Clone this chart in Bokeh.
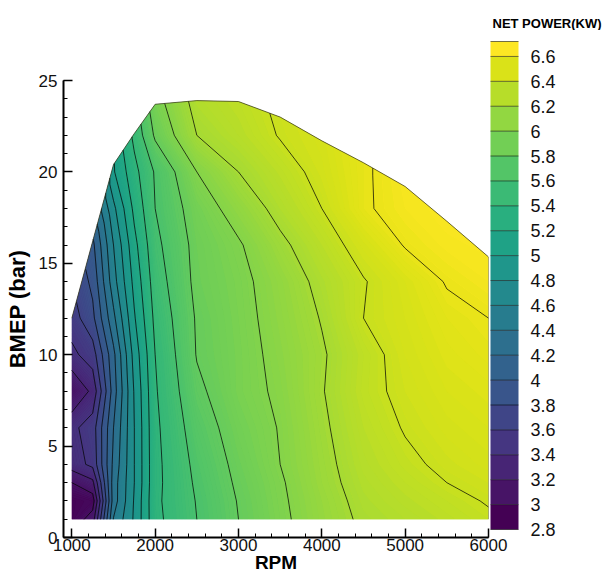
import numpy as np
from bokeh.plotting import figure
from bokeh.layouts import column
from bokeh.models import (Range1d, SingleIntervalTicker, FixedTicker,
                          PrintfTickFormatter)
from bokeh.palettes import Viridis256, linear_palette
from bokeh.embed import file_html
from bokeh.resources import INLINE

# ---- data ----
rpm = [1000, 1250, 1500, 1750, 2000, 2500, 3000, 3500, 4000, 4500, 5000, 5500, 6000]
bmep_rows = [1, 2, 3, 4, 6, 8, 10, 12, 14, 16, 18, 20, 22, 24]
# full-load limit of the map (BMEP, bar) at each RPM
bmep_max = [12.0, 16.2, 20.4, 22.1, 23.7, 23.9, 23.85, 23.0, 21.7, 20.5, 19.2, 17.3, 15.35]

# net power (kW): one row per BMEP level, one column per RPM; None = beyond full load
power = [
    # 1000  1250  1500  1750  2000  2500  3000  3500  4000  4500  5000  5500  6000
    [2.85, 3.10, 4.41, 4.83, 5.35, 5.60, 5.80, 5.96, 6.11, 6.23, 6.28, 6.33, 6.38],  # 1
    [2.85, 2.90, 4.30, 4.82, 5.36, 5.61, 5.81, 5.97, 6.12, 6.25, 6.31, 6.36, 6.41],  # 2
    [3.00, 3.15, 4.30, 4.80, 5.35, 5.63, 5.83, 5.98, 6.14, 6.27, 6.34, 6.40, 6.44],  # 3
    [3.30, 3.45, 4.25, 4.80, 5.35, 5.65, 5.85, 6.00, 6.15, 6.29, 6.37, 6.43, 6.47],  # 4
    [3.35, 3.50, 4.20, 4.80, 5.36, 5.70, 5.89, 6.01, 6.17, 6.32, 6.41, 6.47, 6.50],  # 6
    [3.00, 3.25, 4.10, 4.82, 5.38, 5.76, 5.93, 6.03, 6.19, 6.35, 6.44, 6.50, 6.53],  # 8
    [3.35, 3.50, 4.15, 4.88, 5.40, 5.81, 5.93, 6.05, 6.18, 6.34, 6.46, 6.53, 6.57],  # 10
    [3.50, 3.75, 4.35, 4.98, 5.45, 5.82, 5.94, 6.07, 6.21, 6.40, 6.48, 6.56, 6.60],  # 12
    [None, 3.85, 4.52, 5.06, 5.50, 5.85, 5.95, 6.09, 6.25, 6.39, 6.50, 6.61, 6.66],  # 14
    [None, 3.95, 4.60, 5.14, 5.55, 5.86, 5.98, 6.16, 6.32, 6.47, 6.61, 6.67, 6.68],  # 16
    [None, 3.97, 4.75, 5.25, 5.60, 5.90, 6.08, 6.26, 6.40, 6.58, 6.66, 6.69, None],  # 18
    [None, None, 4.98, 5.34, 5.62, 6.00, 6.20, 6.33, 6.45, 6.58, 6.67, None, None],  # 20
    [None, None, None, 5.45, 5.83, 6.20, 6.30, 6.41, 6.47, None, None, None, None],  # 22
    [None, None, None, None, 5.92, 6.27, 6.34, 6.42, None, None, None, None, None],  # 24
]

cbar_ticks = [2.8, 3, 3.2, 3.4, 3.6, 3.8, 4, 4.2, 4.4, 4.6, 4.8, 5, 5.2, 5.4,
              5.6, 5.8, 6, 6.2, 6.4, 6.6]
cbar_top = 6.72
cbar_title = "NET POWER(KW)"

# ---- curvilinear grid clipped at the full-load line ----
ny, nx = len(bmep_rows), len(rpm)
X = np.zeros((ny, nx))
Y = np.zeros((ny, nx))
Z = np.zeros((ny, nx))
for j in range(nx):
    last = None
    for i in range(ny):
        X[i, j] = rpm[j]
        Y[i, j] = min(bmep_rows[i], bmep_max[j])
        v = power[i][j]
        if v is None:
            v = last
        Z[i, j] = v
        last = v

FONT = "Liberation Sans"

# ---- strip holding the colour-bar title (its frame is aligned with the map's frame) ----
TITLE_H = 30
tf = figure(width=604, height=TITLE_H, x_range=Range1d(0, 1), y_range=Range1d(0, 1),
            output_backend="svg", toolbar_location=None,
            x_axis_location=None, y_axis_location=None,
            title=cbar_title, title_location="below",
            min_border_left=0, min_border_right=0, min_border_top=0, min_border_bottom=0)
tf.outline_line_color = None
tf.grid.visible = False
tf.background_fill_color = "white"
tf.border_fill_color = "white"
tf.title.align = "left"
tf.title.offset = 429
tf.title.standoff = 0
tf.title.vertical_align = "bottom"
tf.title.text_font = FONT
tf.title.text_font_style = "bold"
tf.title.text_font_size = "13px"
tf.title.text_color = "black"

# ---- main map ----
p = figure(width=604, height=575 - TITLE_H,
           x_range=Range1d(900, 6000), y_range=Range1d(0, 25),
           output_backend="svg", toolbar_location=None,
           min_border_left=63, min_border_right=116,
           min_border_top=80 - TITLE_H, min_border_bottom=37)
p.outline_line_color = None
p.grid.visible = False
p.background_fill_color = "white"
p.border_fill_color = "white"

# banded contour (under the smooth fill) - drives the colour bar
band_levels = cbar_ticks + [cbar_top]
band_pal = linear_palette(Viridis256, len(band_levels) - 1)
cr_band = p.contour(X, Y, Z, band_levels, fill_color=band_pal,
                    line_color="black", line_alpha=0.55, line_width=1)

# smooth-looking fill
fine_levels = np.linspace(cbar_ticks[0], cbar_top, 197)
fine_pal = linear_palette(Viridis256, len(fine_levels) - 1)
p.contour(X, Y, Z, fine_levels, fill_color=fine_pal)

# contour lines
p.contour(X, Y, Z, cbar_ticks, line_color="black", line_alpha=0.85, line_width=0.8)

# boundary of the map (full-load line + right edge)
p.line(rpm + [rpm[-1]], bmep_max + [bmep_rows[0]],
       line_color="#3a3a20", line_alpha=0.75, line_width=1)

# ---- axes ----
for ax in (p.xaxis[0], p.yaxis[0]):
    ax.axis_line_width = 2
    ax.axis_line_color = "black"
    ax.major_tick_in = 9
    ax.major_tick_out = 0
    ax.minor_tick_in = 4
    ax.minor_tick_out = 0
    ax.major_tick_line_width = 1.5
    ax.minor_tick_line_width = 1
    ax.major_tick_line_color = "black"
    ax.minor_tick_line_color = "black"
    ax.major_label_text_font = FONT
    ax.major_label_text_font_size = "17px"
    ax.major_label_text_color = "#111111"
    ax.axis_label_text_font = FONT
    ax.axis_label_text_font_style = "bold"
    ax.axis_label_text_color = "black"

p.xaxis.ticker = SingleIntervalTicker(interval=1000, num_minor_ticks=5)
p.yaxis.ticker = SingleIntervalTicker(interval=5, num_minor_ticks=5)
p.xaxis.axis_label = "RPM"
p.yaxis.axis_label = "BMEP (bar)"
p.xaxis.axis_label_text_font_size = "19px"
p.yaxis.axis_label_text_font_size = "22px"
p.xaxis.major_label_standoff = 1
p.xaxis.axis_label_standoff = -2
p.yaxis.major_label_standoff = 6
p.yaxis.axis_label_standoff = 6

# ---- colour bar ----
cb = cr_band.construct_color_bar(
    width=28, height=488, padding=2, margin=0,
    location=(425, 6),
    formatter=PrintfTickFormatter(format="%g"),
    major_label_text_font=FONT, major_label_text_font_size="18px",
    major_label_text_color="#111111",
    label_standoff=12,
    major_tick_line_color=None, minor_tick_line_color=None,
    bar_line_color=None,
    background_fill_color=None, border_line_color=None,
)
cb.ticker = FixedTicker(ticks=cbar_ticks)
p.add_layout(cb, "center")

layout = column(tf, p, spacing=0)
open("out.html", "w").write(file_html(layout, INLINE))
